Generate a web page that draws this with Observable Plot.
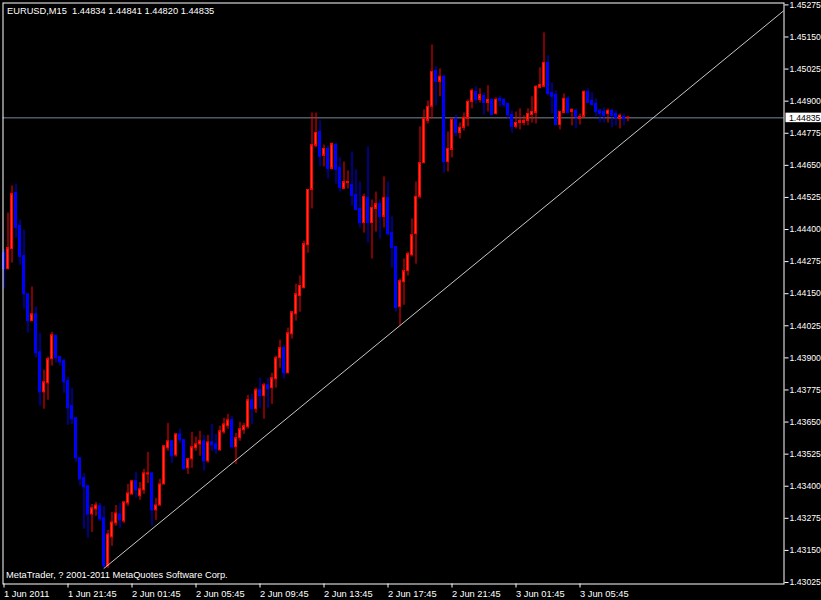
<!DOCTYPE html>
<html>
<head>
<meta charset="utf-8">
<script src="https://cdn.jsdelivr.net/npm/d3@7"></script>
<script src="https://cdn.jsdelivr.net/npm/@observablehq/plot@0.6"></script>
<style>
  html, body { margin: 0; padding: 0; background: #000; }
  #chart svg { display: block; }
</style>
</head>
<body>
<div id="chart"></div>
<script>
const symbol = "EURUSD,M15";
const copyright = "MetaTrader, ? 2001-2011 MetaQuotes Software Corp.";

const open = [
1.44308,1.44246,1.44324,1.44542,1.44414,1.44297,1.44148,1.44043,1.44070,1.43922,
1.43766,1.43801,1.43895,1.43985,1.43903,1.43887,1.43809,1.43712,1.43665,1.43509,
1.43431,1.43400,1.43290,1.43310,1.43322,1.43275,1.43088,1.43201,1.43255,1.43290,
1.43263,1.43333,1.43368,1.43419,1.43361,1.43384,1.43446,1.43450,1.43306,1.43325,
1.43407,1.43548,1.43575,1.43520,1.43602,1.43579,1.43470,1.43505,1.43548,1.43563,
1.43575,1.43497,1.43571,1.43563,1.43540,1.43610,1.43634,1.43657,1.43552,1.43587,
1.43618,1.43630,1.43735,1.43700,1.43774,1.43751,1.43793,1.43782,1.43817,1.43899,
1.43938,1.43840,1.43992,1.44070,1.44141,1.44172,1.44339,1.44554,1.44726,1.44780,
1.44687,1.44714,1.44636,1.44729,1.44640,1.44558,1.44581,1.44573,1.44534,1.44480,
1.44425,1.44523,1.44425,1.44480,1.44499,1.44449,1.44523,1.44386,1.44332,1.44098,
1.44195,1.44238,1.44300,1.44382,1.44527,1.44659,1.44823,1.44878,1.45018,1.44975,
1.44995,1.44663,1.44710,1.44827,1.44776,1.44796,1.44831,1.44897,1.44936,1.44905,
1.44920,1.44893,1.44905,1.44850,1.44909,1.44905,1.44889,1.44846,1.44800,1.44815,
1.44815,1.44823,1.44846,1.44854,1.44952,1.44956,1.45049,1.44932,1.44924,1.44807,
1.44854,1.44909,1.44858,1.44862,1.44831,1.44839,1.44936,1.44901,1.44889,1.44862,
1.44858,1.44850,1.44862,1.44850,1.44831,1.44839,1.44834];
const high = [
1.44324,1.44464,1.44570,1.44577,1.44437,1.44398,1.44150,1.44176,1.44098,1.43996,
1.43852,1.43903,1.44000,1.43990,1.43905,1.43895,1.43825,1.43782,1.43667,1.43511,
1.43450,1.43402,1.43329,1.43337,1.43333,1.43322,1.43228,1.43298,1.43325,1.43333,
1.43339,1.43407,1.43423,1.43454,1.43415,1.43466,1.43532,1.43452,1.43353,1.43427,
1.43558,1.43645,1.43577,1.43604,1.43622,1.43581,1.43509,1.43610,1.43591,1.43614,
1.43598,1.43598,1.43641,1.43602,1.43634,1.43665,1.43680,1.43673,1.43606,1.43649,
1.43645,1.43754,1.43758,1.43782,1.43821,1.43801,1.43821,1.43840,1.43907,1.43969,
1.43949,1.44016,1.44080,1.44187,1.44219,1.44355,1.44556,1.44854,1.44854,1.44823,
1.44729,1.44726,1.44737,1.44737,1.44679,1.44663,1.44628,1.44702,1.44632,1.44585,
1.44538,1.44722,1.44515,1.44546,1.44515,1.44605,1.44585,1.44449,1.44334,1.44207,
1.44285,1.44312,1.44441,1.44585,1.44800,1.44866,1.44901,1.45119,1.45034,1.45026,
1.45002,1.44780,1.44831,1.44846,1.44815,1.44854,1.44905,1.44948,1.44956,1.44948,
1.44932,1.44960,1.44909,1.44913,1.44920,1.44909,1.44893,1.44862,1.44858,1.44870,
1.44843,1.44870,1.44917,1.44960,1.45030,1.45166,1.45077,1.44971,1.44940,1.44860,
1.44928,1.44917,1.44870,1.44870,1.44850,1.44940,1.44948,1.44932,1.44909,1.44870,
1.44874,1.44870,1.44870,1.44862,1.44850,1.44850,1.44841];
const low = [
1.44168,1.44242,1.44269,1.44367,1.44261,1.44090,1.43996,1.44043,1.43899,1.43712,
1.43700,1.43735,1.43868,1.43879,1.43868,1.43762,1.43637,1.43641,1.43493,1.43400,
1.43232,1.43197,1.43220,1.43283,1.43263,1.43080,1.43080,1.43166,1.43244,1.43236,
1.43255,1.43322,1.43364,1.43353,1.43345,1.43368,1.43411,1.43244,1.43267,1.43322,
1.43405,1.43536,1.43489,1.43513,1.43567,1.43464,1.43446,1.43470,1.43536,1.43517,
1.43458,1.43489,1.43536,1.43524,1.43536,1.43602,1.43622,1.43544,1.43485,1.43575,
1.43602,1.43622,1.43641,1.43684,1.43704,1.43661,1.43704,1.43719,1.43782,1.43860,
1.43817,1.43838,1.43973,1.44043,1.44078,1.44168,1.44308,1.44480,1.44718,1.44644,
1.44644,1.44597,1.44632,1.44577,1.44546,1.44556,1.44558,1.44492,1.44472,1.44406,
1.44386,1.44347,1.44285,1.44390,1.44363,1.44406,1.44375,1.44250,1.44078,1.44024,
1.44105,1.44219,1.44293,1.44265,1.44519,1.44655,1.44811,1.44831,1.44882,1.44917,
1.44620,1.44624,1.44679,1.44761,1.44753,1.44784,1.44800,1.44870,1.44889,1.44893,
1.44846,1.44858,1.44843,1.44846,1.44878,1.44874,1.44827,1.44776,1.44792,1.44788,
1.44804,1.44804,1.44815,1.44811,1.44948,1.44952,1.44920,1.44850,1.44805,1.44788,
1.44850,1.44850,1.44804,1.44792,1.44807,1.44835,1.44891,1.44882,1.44839,1.44815,
1.44815,1.44815,1.44796,1.44804,1.44792,1.44804,1.44820];
const close = [
1.44246,1.44328,1.44538,1.44406,1.44293,1.44148,1.44043,1.44070,1.43918,1.43766,
1.43805,1.43895,1.43988,1.43899,1.43883,1.43805,1.43704,1.43661,1.43509,1.43427,
1.43396,1.43290,1.43314,1.43325,1.43271,1.43088,1.43212,1.43259,1.43294,1.43267,
1.43337,1.43372,1.43419,1.43384,1.43388,1.43450,1.43450,1.43306,1.43325,1.43407,
1.43556,1.43575,1.43517,1.43602,1.43579,1.43466,1.43505,1.43552,1.43563,1.43575,
1.43497,1.43571,1.43559,1.43544,1.43614,1.43641,1.43657,1.43552,1.43587,1.43622,
1.43634,1.43735,1.43700,1.43774,1.43751,1.43793,1.43778,1.43821,1.43899,1.43938,
1.43840,1.43996,1.44078,1.44148,1.44180,1.44343,1.44554,1.44729,1.44776,1.44683,
1.44714,1.44636,1.44733,1.44632,1.44562,1.44585,1.44585,1.44531,1.44476,1.44425,
1.44527,1.44425,1.44484,1.44499,1.44449,1.44523,1.44382,1.44328,1.44094,1.44199,
1.44238,1.44304,1.44378,1.44527,1.44659,1.44831,1.44878,1.45014,1.44975,1.44995,
1.44663,1.44714,1.44827,1.44776,1.44796,1.44835,1.44897,1.44940,1.44905,1.44924,
1.44893,1.44905,1.44846,1.44905,1.44901,1.44885,1.44846,1.44800,1.44815,1.44823,
1.44823,1.44850,1.44858,1.44956,1.44963,1.45049,1.44928,1.44917,1.44807,1.44858,
1.44909,1.44854,1.44866,1.44839,1.44839,1.44936,1.44893,1.44885,1.44858,1.44850,
1.44843,1.44862,1.44843,1.44835,1.44843,1.44831,1.44835];

// time axis: bar numbers carrying a label, and their labels
const xTickBars = [1, 17, 33, 49, 65, 81, 97, 113, 129, 145];
const xTickLabels = ["1 Jun 2011","1 Jun 21:45","2 Jun 01:45","2 Jun 05:45","2 Jun 09:45",
                     "2 Jun 13:45","2 Jun 17:45","2 Jun 21:45","3 Jun 01:45","3 Jun 05:45"];
// price axis ticks
const yTicks = [1.43025,1.43150,1.43275,1.43400,1.43525,1.43650,1.43775,1.43900,1.44025,
                1.44150,1.44275,1.44400,1.44525,1.44650,1.44775,1.44900,1.45025,1.45150,1.45275];
// trendline anchors (bar, price)
const trendBars = [26, 100];
const trendPrices = [1.43080, 1.44026];

const bullColor = "#ff0000", bullFill = "#ff3418", bearColor = "#0000ff";
const fmt = d => d.toFixed(5);

const candles = open.map((o, i) => ({
  bar: i + 1, open: o, high: high[i], low: low[i], close: close[i], up: close[i] >= o
}));
const last = candles[candles.length - 1];

const slope = (trendPrices[1] - trendPrices[0]) / (trendBars[1] - trendBars[0]);
const rayEnd = 205;
const trend = [
  {bar: trendBars[0], price: trendPrices[0]},
  {bar: rayEnd, price: trendPrices[0] + slope * (rayEnd - trendBars[0])}
];

const title = `${symbol}\u00a0\u00a0${fmt(last.open)} ${fmt(last.high)} ${fmt(last.low)} ${fmt(last.close)}`;

const font = "'Liberation Sans', Arial, sans-serif";
const axisFont = 8.7;

const priceTag = (index, scales, values, dimensions) => {
  const y = scales.y(last.close);
  const x0 = dimensions.width - dimensions.marginRight + 2;
  const g = d3.create("svg:g");
  g.append("rect").attr("x", x0).attr("y", y - 4.7).attr("width", dimensions.width - x0).attr("height", 9.5).attr("fill", "#fff");
  g.append("text").attr("x", x0 + 3.5).attr("y", y + 3.3).attr("fill", "#000")
    .attr("text-anchor", "start")
    .attr("font-size", axisFont).attr("font-family", font).text(fmt(last.close));
  return g.node();
};

const chart = Plot.plot({
  width: 821,
  height: 600,
  marginLeft: 2.5,
  marginRight: 37.5,
  marginTop: 2.5,
  marginBottom: 16.5,
  x: {type: "linear", domain: [1, 157], range: [3.5, 627.5]},
  y: {type: "linear", domain: [1.43025, 1.45275], range: [582, 4.4]},
  style: {background: "#000", color: "#fff", fontFamily: font, fontSize: "9.3px"},
  marks: [
    Plot.ruleY([last.close], {stroke: "#778899", strokeWidth: 1}),
    Plot.ruleX(candles, {x: "bar", y1: "low", y2: "high", stroke: d => d.up ? bullColor : bearColor, strokeWidth: 1}),
    Plot.rect(candles, {
      x1: d => d.bar - 0.25, x2: d => d.bar + 0.25, y1: "open", y2: "close",
      fill: d => d.up ? bullFill : bearColor, stroke: d => d.up ? bullColor : bearColor, strokeWidth: 1
    }),
    Plot.line(trend, {x: "bar", y: "price", stroke: "#c8c8c8", strokeWidth: 1, clip: true}),
    Plot.frame({stroke: "#fff", strokeWidth: 1}),
    Plot.axisY({anchor: "right", ticks: yTicks, tickFormat: fmt, tickSize: 4, tickPadding: 1.5,
                fontSize: axisFont, label: null}),
    Plot.axisX({anchor: "bottom", ticks: xTickBars, tickFormat: d => xTickLabels[xTickBars.indexOf(d)],
                tickSize: 4, tickPadding: 2, textAnchor: "start", fontSize: 9.3, label: null}),
    Plot.text([title], {text: d => d, frameAnchor: "top-left", dx: 4, dy: 4.8, lineAnchor: "top", fill: "#fff", fontSize: 9.3}),
    Plot.text([copyright], {text: d => d, frameAnchor: "bottom-left", dx: 3, dy: -12.6, lineAnchor: "top", fill: "#fff", fontSize: 9.3}),
    priceTag
  ]
});
document.getElementById("chart").appendChild(chart);
</script>
</body>
</html>
